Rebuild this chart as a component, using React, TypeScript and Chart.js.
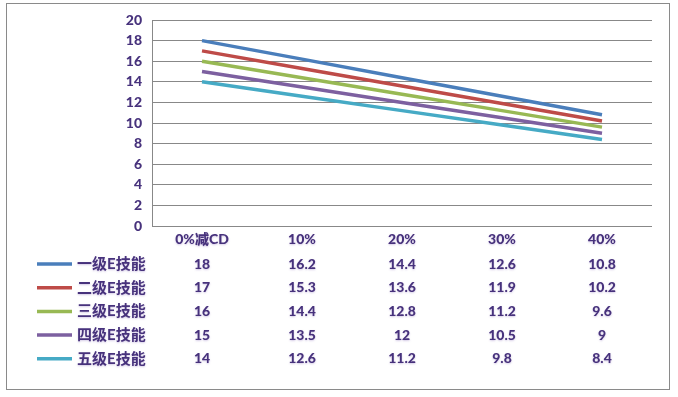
import React, { useEffect, useRef } from "react";
import { Chart, registerables } from "chart.js";

Chart.register(...registerables);

const categories = ["0%减CD", "10%", "20%", "30%", "40%"];
const seriesNames = ["一级E技能", "二级E技能", "三级E技能", "四级E技能", "五级E技能"];
const level1 = [18, 16.2, 14.4, 12.6, 10.8];
const level2 = [17, 15.3, 13.6, 11.9, 10.2];
const level3 = [16, 14.4, 12.8, 11.2, 9.6];
const level4 = [15, 13.5, 12, 10.5, 9];
const level5 = [14, 12.6, 11.2, 9.8, 8.4];
const seriesValues = [level1, level2, level3, level4, level5];
const seriesColors = ["#4a7ebb", "#be4b48", "#98b954", "#7d60a0", "#46aac5"];
const yMin = 0;
const yMax = 20;
const yStep = 2;

const TEXT_COLOR = "#47327c";
const FONT_FAMILY = "Lato, 'Noto Sans CJK SC', sans-serif";

export default function App() {
  const ref = useRef<HTMLCanvasElement | null>(null);

  useEffect(() => {
    document.body.style.margin = "0";
    const canvas = ref.current;
    if (!canvas) return;

    const tablePlugin = {
      id: "dataTable",
      afterDraw(chart: any) {
        const ctx = chart.ctx as CanvasRenderingContext2D;
        const area = chart.chartArea;
        const xs = chart.scales.x;
        ctx.save();
        // outer frame
        ctx.strokeStyle = "#8a8a8a";
        ctx.lineWidth = 1;
        ctx.strokeRect(6.5, 3.5, 663, 386);

        ctx.font = `900 14px ${FONT_FAMILY}`;
        ctx.fillStyle = TEXT_COLOR;
        ctx.textAlign = "center";
        ctx.textBaseline = "middle";
        ctx.shadowColor = "rgba(130,100,180,0.35)";
        ctx.shadowBlur = 2;
        ctx.shadowOffsetY = 1;
        const headerY = area.bottom + 13;
        categories.forEach((c, i) => {
          ctx.fillText(c, xs.getPixelForValue(i), headerY);
        });
        const rowH = 23.7;
        seriesValues.forEach((vals, r) => {
          const y = area.bottom + 38 + rowH * r;
          ctx.font = `900 14px ${FONT_FAMILY}`;
          ctx.textAlign = "center";
          vals.forEach((v, i) => {
            ctx.fillText(String(v), xs.getPixelForValue(i), y);
          });
          ctx.textAlign = "left";
          ctx.font = `bold 15px ${FONT_FAMILY}`;
          ctx.fillText(seriesNames[r], 77, y);
          ctx.save();
          ctx.shadowColor = "transparent";
          ctx.strokeStyle = seriesColors[r];
          ctx.lineWidth = 3.5;
          ctx.beginPath();
          ctx.moveTo(37, y);
          ctx.lineTo(72, y);
          ctx.stroke();
          ctx.restore();
        });
        ctx.restore();
      },
    };

    const chart = new Chart(canvas, {
      type: "line",
      data: {
        labels: categories,
        datasets: seriesValues.map((vals, i) => ({
          label: seriesNames[i],
          data: vals,
          borderColor: seriesColors[i],
          backgroundColor: seriesColors[i],
          borderWidth: 3.5,
          pointRadius: 0,
          tension: 0,
        })),
      },
      options: {
        animation: false,
        responsive: false,
        layout: { padding: { left: 0, right: 26, top: 20, bottom: 171 } },
        plugins: { legend: { display: false }, tooltip: { enabled: false } },
        scales: {
          x: { display: false, offset: true },
          y: {
            min: yMin,
            max: yMax,
            afterFit(scale: any) {
              scale.width = 152;
            },
            ticks: {
              stepSize: yStep,
              padding: 10,
              color: TEXT_COLOR,
              font: { family: FONT_FAMILY, size: 14, weight: "900" },
            },
            grid: { color: "#888888", lineWidth: 1, drawTicks: false },
            border: { display: true, color: "#888888", width: 1 },
          },
        },
      },
      plugins: [tablePlugin],
    });
    return () => chart.destroy();
  }, []);

  return (
    <div style={{ width: 678, height: 397, background: "#fff" }}>
      <canvas ref={ref} width={678} height={397} style={{ display: "block" }} />
    </div>
  );
}
